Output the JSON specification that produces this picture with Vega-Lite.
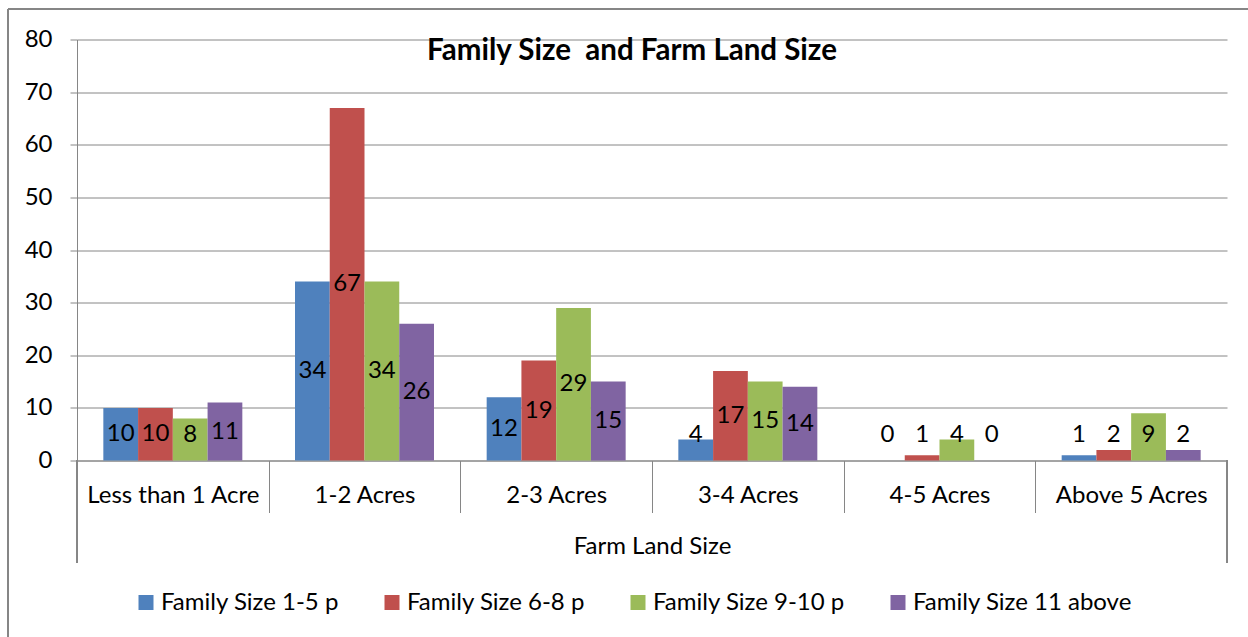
{
  "$schema": "https://vega.github.io/schema/vega-lite/v6.json",
  "width": 1150,
  "height": 421,
  "autosize": "none",
  "padding": {"left": 77, "top": 39.5, "right": 21, "bottom": 176.5},
  "background": "white",
  "config": {
    "font": "Lato",
    "view": {"stroke": null},
    "axis": {"labelColor": "#000000", "titleColor": "#000000", "labelFontSize": 24, "titleFontSize": 24, "titleFontWeight": "normal", "domainColor": "#868686", "tickColor": "#868686", "gridColor": "#868686"}
  },
  "title": {
    "text": "Family Size\u00a0 and Farm Land Size",
    "fontSize": 29.5,
    "fontWeight": "bold",
    "color": "#000000",
    "anchor": "middle",
    "baseline": "alphabetic",
    "offset": 0,
    "dx": -20,
    "dy": 81
  },
  "datasets": {
    "farms": [
      {"land": "Less than 1 Acre", "family": "Family Size 1-5 p", "count": 10},
      {"land": "Less than 1 Acre", "family": "Family Size 6-8 p", "count": 10},
      {"land": "Less than 1 Acre", "family": "Family Size 9-10 p", "count": 8},
      {"land": "Less than 1 Acre", "family": "Family Size 11 above", "count": 11},
      {"land": "1-2 Acres", "family": "Family Size 1-5 p", "count": 34},
      {"land": "1-2 Acres", "family": "Family Size 6-8 p", "count": 67},
      {"land": "1-2 Acres", "family": "Family Size 9-10 p", "count": 34},
      {"land": "1-2 Acres", "family": "Family Size 11 above", "count": 26},
      {"land": "2-3 Acres", "family": "Family Size 1-5 p", "count": 12},
      {"land": "2-3 Acres", "family": "Family Size 6-8 p", "count": 19},
      {"land": "2-3 Acres", "family": "Family Size 9-10 p", "count": 29},
      {"land": "2-3 Acres", "family": "Family Size 11 above", "count": 15},
      {"land": "3-4 Acres", "family": "Family Size 1-5 p", "count": 4},
      {"land": "3-4 Acres", "family": "Family Size 6-8 p", "count": 17},
      {"land": "3-4 Acres", "family": "Family Size 9-10 p", "count": 15},
      {"land": "3-4 Acres", "family": "Family Size 11 above", "count": 14},
      {"land": "4-5 Acres", "family": "Family Size 1-5 p", "count": 0},
      {"land": "4-5 Acres", "family": "Family Size 6-8 p", "count": 1},
      {"land": "4-5 Acres", "family": "Family Size 9-10 p", "count": 4},
      {"land": "4-5 Acres", "family": "Family Size 11 above", "count": 0},
      {"land": "Above 5 Acres", "family": "Family Size 1-5 p", "count": 1},
      {"land": "Above 5 Acres", "family": "Family Size 6-8 p", "count": 2},
      {"land": "Above 5 Acres", "family": "Family Size 9-10 p", "count": 9},
      {"land": "Above 5 Acres", "family": "Family Size 11 above", "count": 2}
    ]
  },
  "data": {"name": "farms"},
  "layer": [
    {
      "mark": {"type": "bar", "orient": "vertical"},
      "encoding": {
        "x": {
          "field": "land",
          "type": "nominal",
          "sort": ["Less than 1 Acre", "1-2 Acres", "2-3 Acres", "3-4 Acres", "4-5 Acres", "Above 5 Acres"],
          "scale": {"paddingInner": 0, "paddingOuter": 0},
          "axis": {
            "title": "Farm Land Size",
            "labelAngle": 0,
            "tickBand": "extent",
            "tickSize": 52,
            "labelPadding": -29,
            "labelBaseline": "top",
            "titleY": 86,
            "titleBaseline": "middle"
          }
        },
        "xOffset": {
          "field": "family",
          "type": "nominal",
          "sort": ["Family Size 1-5 p", "Family Size 6-8 p", "Family Size 9-10 p", "Family Size 11 above"],
          "scale": {"paddingInner": 0, "paddingOuter": 0.758}
        },
        "y": {
          "field": "count",
          "type": "quantitative",
          "scale": {"domain": [0, 80], "nice": false},
          "axis": {"title": null, "values": [0, 10, 20, 30, 40, 50, 60, 70, 80], "tickSize": 7, "labelPadding": 18, "grid": true}
        },
        "color": {
          "field": "family",
          "type": "nominal",
          "sort": ["Family Size 1-5 p", "Family Size 6-8 p", "Family Size 9-10 p", "Family Size 11 above"],
          "scale": {"range": ["#4F81BD", "#C0504D", "#9BBB59", "#8064A2"]},
          "legend": {
            "title": null,
            "orient": "none",
            "direction": "horizontal",
            "legendX": 57,
            "legendY": 551,
            "symbolType": "square",
            "symbolSize": 225,
            "symbolStrokeWidth": 0,
            "labelFontSize": 24,
            "labelLimit": 0,
            "labelColor": "#000000",
            "labelOffset": 3,
            "columnPadding": 41,
            "padding": 0
          }
        }
      }
    },
    {
      "transform": [{"calculate": "max(datum.count / 2, 4.8)", "as": "labelPos"}],
      "mark": {"type": "text", "fontSize": 24, "color": "#000000", "baseline": "middle"},
      "encoding": {
        "x": {"field": "land", "type": "nominal", "sort": ["Less than 1 Acre", "1-2 Acres", "2-3 Acres", "3-4 Acres", "4-5 Acres", "Above 5 Acres"]},
        "xOffset": {"field": "family", "type": "nominal", "sort": ["Family Size 1-5 p", "Family Size 6-8 p", "Family Size 9-10 p", "Family Size 11 above"]},
        "y": {"field": "labelPos", "type": "quantitative"},
        "text": {"field": "count", "type": "quantitative"}
      }
    },
    {
      "mark": {"type": "rule", "color": "#868686", "strokeWidth": 1},
      "encoding": {
        "x": {"datum": "Less than 1 Acre", "bandPosition": 0},
        "y": {"datum": 0},
        "y2": {"datum": -19.4}
      }
    },
    {
      "mark": {"type": "rule", "color": "#868686", "strokeWidth": 1},
      "encoding": {
        "x": {"datum": "Above 5 Acres", "bandPosition": 1},
        "y": {"datum": 0},
        "y2": {"datum": -19.4}
      }
    },
    {
      "mark": {"type": "rule", "color": "#868686", "strokeWidth": 1.5},
      "encoding": {
        "x": {"datum": "Less than 1 Acre", "bandPosition": -0.36},
        "y": {"datum": 85.8},
        "y2": {"datum": -40}
      }
    },
    {
      "mark": {"type": "rule", "color": "#868686", "strokeWidth": 1.5},
      "encoding": {
        "x": {"datum": "Less than 1 Acre", "bandPosition": -0.36},
        "x2": {"datum": "Above 5 Acres", "bandPosition": 1.2},
        "y": {"datum": 85.8}
      }
    }
  ]
}
